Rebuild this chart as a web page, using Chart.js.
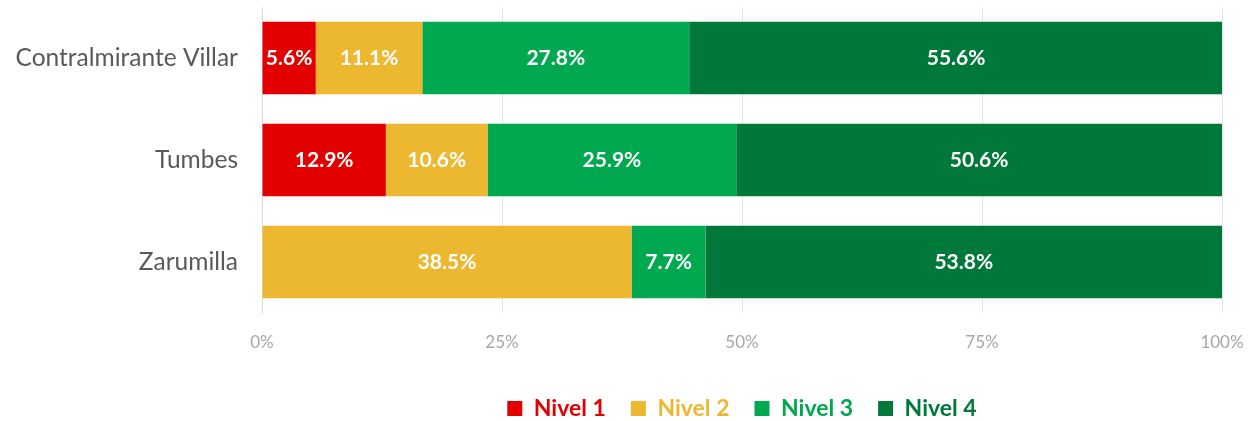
<!DOCTYPE html>
<html lang="es">
<head>
    <meta charset="UTF-8">
    <title>Niveles por provincia</title>
    <script src="https://cdn.jsdelivr.net/npm/chart.js"></script>
    <style>
        body { margin: 0; background: #fff; }
        #wrap { width: 1258px; height: 421px; position: relative; }
    </style>
</head>
<body>
    <div id="wrap"><canvas id="nivelesChart"></canvas></div>

    <script>
        const provincias = ['Contralmirante Villar', 'Tumbes', 'Zarumilla'];
        const nivel1 = [5.6, 12.9, 0];
        const nivel2 = [11.1, 10.6, 38.5];
        const nivel3 = [27.8, 25.9, 7.7];
        const nivel4 = [55.6, 50.6, 53.8];
        const nombres = ['Nivel 1', 'Nivel 2', 'Nivel 3', 'Nivel 4'];
        const colores = ['#E20000', '#EBB830', '#00A84F', '#00783A'];
        const ticksX = [0, 25, 50, 75, 100];

        // etiquetas blancas dentro de cada segmento
        const etiquetasBarras = {
            id: 'etiquetasBarras',
            afterLayout(chart) {
                // bajar un poco la leyenda
                chart.legend.top += 9;
                chart.legend.bottom += 9;
            },
            afterDatasetsDraw(chart) {
                const ctx = chart.ctx;
                ctx.save();
                ctx.fillStyle = '#ffffff';
                ctx.font = 'bold 21px Lato';
                ctx.textAlign = 'center';
                ctx.textBaseline = 'middle';
                chart.data.datasets.forEach((ds, i) => {
                    chart.getDatasetMeta(i).data.forEach((bar, j) => {
                        const v = ds.data[j];
                        if (!v) return;
                        const p = bar.getProps(['x', 'y', 'base'], true);
                        ctx.fillText(v.toFixed(1) + '%', (p.x + p.base) / 2, p.y);
                    });
                });
                ctx.restore();
            }
        };

        const datasets = [nivel1, nivel2, nivel3, nivel4].map((d, i) => ({
            label: nombres[i],
            data: d,
            backgroundColor: colores[i],
            borderWidth: 0,
            barPercentage: 0.713,
            categoryPercentage: 1
        }));

        new Chart(document.getElementById('nivelesChart'), {
            type: 'bar',
            data: { labels: provincias, datasets: datasets },
            plugins: [etiquetasBarras],
            options: {
                indexAxis: 'y',
                responsive: true,
                maintainAspectRatio: false,
                animation: false,
                layout: { padding: { top: 7, right: 36, bottom: 0, left: 0 } },
                scales: {
                    x: {
                        stacked: true,
                        min: 0,
                        max: 100,
                        afterBuildTicks(scale) {
                            scale.ticks = ticksX.map(v => ({ value: v }));
                        },
                        afterFit(scale) {
                            scale.height = 50;
                            scale.paddingLeft = 0;
                            scale.paddingRight = 0;
                        },
                        grid: { color: '#E6E6E6', drawTicks: false },
                        border: { display: false },
                        ticks: {
                            padding: 19,
                            color: '#A6A6A6',
                            font: { family: 'Lato', size: 17 },
                            callback: v => v + '%'
                        }
                    },
                    y: {
                        stacked: true,
                        afterFit(scale) {
                            scale.width = 262;
                            scale.paddingTop = 0;
                            scale.paddingBottom = 0;
                        },
                        grid: { display: false, drawTicks: false },
                        border: { display: true, color: '#D9D9D9', width: 1 },
                        ticks: {
                            padding: 24,
                            color: '#595959',
                            font: { family: 'Lato', size: 24.5 }
                        }
                    }
                },
                plugins: {
                    tooltip: { enabled: false },
                    legend: {
                        position: 'bottom',
                        fullSize: false,
                        labels: {
                            boxWidth: 15,
                            boxHeight: 15,
                            padding: 25,
                            font: { family: 'Lato', size: 23, weight: 'bold' },
                            generateLabels(chart) {
                                return chart.data.datasets.map((ds, i) => ({
                                    text: ds.label,
                                    fillStyle: ds.backgroundColor,
                                    strokeStyle: ds.backgroundColor,
                                    lineWidth: 0,
                                    fontColor: ds.backgroundColor,
                                    datasetIndex: i
                                }));
                            }
                        }
                    }
                }
            }
        });
    </script>
</body>
</html>
